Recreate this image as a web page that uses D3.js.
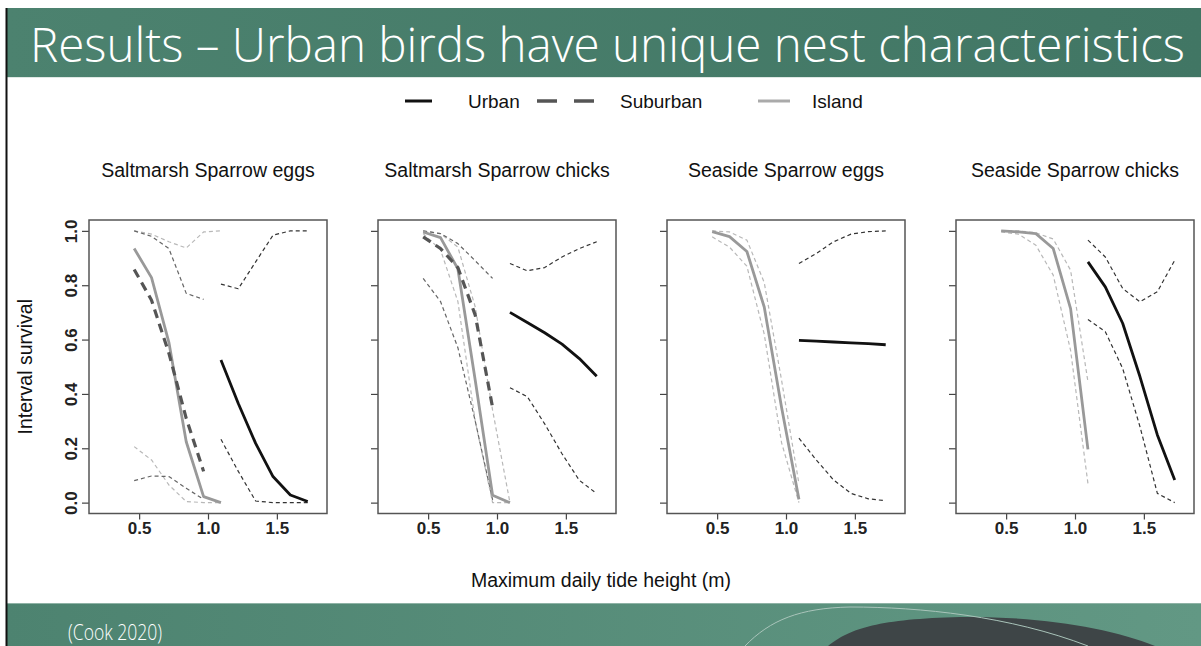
<!DOCTYPE html>
<html>
<head>
<meta charset="utf-8">
<script src="https://cdn.jsdelivr.net/npm/d3@7"></script>
<style>
  html, body { margin: 0; padding: 0; background: #fff; }
  svg { display: block; }
</style>
</head>
<body>
<div id="chart"></div>
<script>
// Tide heights (m) at which survival was predicted
const tide = [0.464, 0.59, 0.716, 0.842, 0.968, 1.094, 1.22, 1.346, 1.472, 1.598, 1.724];

const panelTitles = ["Saltmarsh Sparrow eggs", "Saltmarsh Sparrow chicks", "Seaside Sparrow eggs", "Seaside Sparrow chicks"];
const legendLabels = ["Urban", "Suburban", "Island"];
const yTicks = [0, 0.2, 0.4, 0.6, 0.8, 1.0];
const xTicks = [0.5, 1.0, 1.5];

// null = no prediction at that tide height
const n = null;
// Saltmarsh Sparrow eggs
const smEggsIsland     = [0.935, 0.828, 0.59, 0.224, 0.022, 0.0, n, n, n, n, n];
const smEggsIslandLo   = [0.206, 0.157, 0.065, 0.004, 0.0, 0.0, n, n, n, n, n];
const smEggsIslandHi   = [1.0, 0.988, 0.96, 0.937, 0.996, 1.0, n, n, n, n, n];
const smEggsSuburb     = [0.858, 0.745, 0.55, 0.31, 0.115, n, n, n, n, n, n];
const smEggsSuburbLo   = [0.081, 0.098, 0.096, 0.053, 0.012, n, n, n, n, n, n];
const smEggsSuburbHi   = [1.0, 0.98, 0.935, 0.77, 0.748, n, n, n, n, n, n];
const smEggsUrban      = [n, n, n, n, n, 0.525, 0.365, 0.218, 0.096, 0.028, 0.004];
const smEggsUrbanLo    = [n, n, n, n, n, 0.233, 0.115, 0.006, 0.0, 0.0, 0.0];
const smEggsUrbanHi    = [n, n, n, n, n, 0.804, 0.787, 0.886, 0.984, 1.0, 1.0];
// Saltmarsh Sparrow chicks
const smChicksIsland   = [0.996, 0.975, 0.86, 0.45, 0.027, 0.0, n, n, n, n, n];
const smChicksIslandLo = [0.99, 0.93, 0.74, 0.3, 0.0, 0.0, n, n, n, n, n];
const smChicksIslandHi = [1.0, 0.99, 0.94, 0.72, 0.34, 0.0, n, n, n, n, n];
const smChicksSuburb   = [0.978, 0.935, 0.865, 0.69, 0.35, n, n, n, n, n, n];
const smChicksSuburbLo = [0.825, 0.74, 0.57, 0.3, 0.01, n, n, n, n, n, n];
const smChicksSuburbHi = [1.0, 0.99, 0.953, 0.89, 0.825, n, n, n, n, n, n];
const smChicksUrban    = [n, n, n, n, n, 0.70, 0.663, 0.625, 0.583, 0.53, 0.465];
const smChicksUrbanLo  = [n, n, n, n, n, 0.423, 0.39, 0.29, 0.18, 0.082, 0.033];
const smChicksUrbanHi  = [n, n, n, n, n, 0.88, 0.853, 0.865, 0.904, 0.935, 0.96];
// Seaside Sparrow eggs (no suburban nests)
const ssEggsIsland     = [0.997, 0.979, 0.924, 0.72, 0.35, 0.012, n, n, n, n, n];
const ssEggsIslandLo   = [0.978, 0.94, 0.87, 0.62, 0.22, 0.0, n, n, n, n, n];
const ssEggsIslandHi   = [1.0, 0.996, 0.966, 0.81, 0.45, 0.07, n, n, n, n, n];
const ssEggsUrban      = [n, n, n, n, n, 0.597, 0.594, 0.591, 0.588, 0.585, 0.581];
const ssEggsUrbanLo    = [n, n, n, n, n, 0.237, 0.157, 0.083, 0.034, 0.014, 0.007];
const ssEggsUrbanHi    = [n, n, n, n, n, 0.88, 0.917, 0.96, 0.988, 0.997, 1.0];
// Seaside Sparrow chicks
const ssChicksIsland   = [1.0, 0.996, 0.99, 0.935, 0.714, 0.196, n, n, n, n, n];
const ssChicksIslandLo = [0.996, 0.988, 0.947, 0.837, 0.56, 0.07, n, n, n, n, n];
const ssChicksIslandHi = [1.0, 1.0, 0.993, 0.97, 0.855, 0.445, n, n, n, n, n];
const ssChicksUrban    = [n, n, n, n, n, 0.886, 0.794, 0.66, 0.463, 0.249, 0.083];
const ssChicksUrbanLo  = [n, n, n, n, n, 0.674, 0.629, 0.494, 0.279, 0.034, 0.0];
const ssChicksUrbanHi  = [n, n, n, n, n, 0.966, 0.904, 0.788, 0.739, 0.776, 0.892];

// line styles per series type
const styles = {
    islandCI: { stroke: "#b8b8b8", width: 1.2, dash: "4,3" },
    suburbCI: { stroke: "#666", width: 1.2, dash: "4,3" },
    urbanCI:  { stroke: "#333", width: 1.2, dash: "4,3" },
    island:   { stroke: "#999", width: 2.8, dash: null },
    suburb:   { stroke: "#555", width: 3.2, dash: "9,6" },
    urban:    { stroke: "#111", width: 2.8, dash: null }
};

const panels = [
    [["islandCI", smEggsIslandLo], ["islandCI", smEggsIslandHi], ["suburbCI", smEggsSuburbLo], ["suburbCI", smEggsSuburbHi],
     ["urbanCI", smEggsUrbanLo], ["urbanCI", smEggsUrbanHi], ["island", smEggsIsland], ["suburb", smEggsSuburb], ["urban", smEggsUrban]],
    [["islandCI", smChicksIslandLo], ["islandCI", smChicksIslandHi], ["suburbCI", smChicksSuburbLo], ["suburbCI", smChicksSuburbHi],
     ["urbanCI", smChicksUrbanLo], ["urbanCI", smChicksUrbanHi], ["island", smChicksIsland], ["suburb", smChicksSuburb], ["urban", smChicksUrban]],
    [["islandCI", ssEggsIslandLo], ["islandCI", ssEggsIslandHi], ["urbanCI", ssEggsUrbanLo], ["urbanCI", ssEggsUrbanHi],
     ["island", ssEggsIsland], ["urban", ssEggsUrban]],
    [["islandCI", ssChicksIslandLo], ["islandCI", ssChicksIslandHi], ["urbanCI", ssChicksUrbanLo], ["urbanCI", ssChicksUrbanHi],
     ["island", ssChicksIsland], ["urban", ssChicksUrban]]
];

const W = 1201, H = 646;
const svg = d3.select("#chart").append("svg").attr("width", W).attr("height", H);
const defs = svg.append("defs");

// slide decoration: header / footer bands
const gTop = defs.append("linearGradient").attr("id", "gTop");
gTop.append("stop").attr("offset", "0%").attr("stop-color", "#4c826f");
gTop.append("stop").attr("offset", "100%").attr("stop-color", "#417664");
const gBot = defs.append("linearGradient").attr("id", "gBot");
gBot.append("stop").attr("offset", "0%").attr("stop-color", "#4d8370");
gBot.append("stop").attr("offset", "100%").attr("stop-color", "#629884");

svg.append("rect").attr("x", 6).attr("y", 8).attr("width", W - 6).attr("height", 69).attr("fill", "url(#gTop)");
svg.append("line").attr("x1", 6).attr("x2", W).attr("y1", 77.5).attr("y2", 77.5).attr("stroke", "#dfe8e4").attr("stroke-width", 1);
svg.append("rect").attr("x", 6).attr("y", 603).attr("width", W - 6).attr("height", H - 603).attr("fill", "url(#gBot)");
svg.append("line").attr("x1", 6).attr("x2", W).attr("y1", 603.5).attr("y2", 603.5).attr("stroke", "#8fb3a6").attr("stroke-width", 1);
svg.append("path")
    .attr("d", "M828,646 C850,628 880,619 960,617 C1040,616 1110,628 1155,646 Z")
    .attr("fill", "#3e4547");
svg.append("path")
    .attr("d", "M745,646 C770,620 800,608 850,607 C920,607 1010,616 1088,646")
    .attr("fill", "none").attr("stroke", "#a9c4ba").attr("stroke-width", 1);
svg.append("line").attr("x1", 6.5).attr("x2", 6.5).attr("y1", 8).attr("y2", H).attr("stroke", "#111").attr("stroke-width", 2);

svg.append("text")
    .attr("x", 30).attr("y", 62)
    .attr("textLength", 1155).attr("lengthAdjust", "spacingAndGlyphs")
    .style("font-family", "'Open Sans', Lato, sans-serif")
    .style("font-weight", 300)
    .style("font-size", "48px")
    .attr("fill", "#fff")
    .text("Results \u2013 Urban birds have unique nest characteristics");

svg.append("text")
    .attr("x", 68).attr("y", 640)
    .attr("textLength", 94).attr("lengthAdjust", "spacingAndGlyphs")
    .style("font-family", "'Open Sans', Lato, sans-serif")
    .style("font-weight", 300)
    .style("font-size", "22px")
    .attr("fill", "#fff")
    .text("(Cook 2020)");

const font = "Arial, 'Liberation Sans', Helvetica, sans-serif";

// legend
const legend = svg.append("g").style("font-family", font).style("font-size", "19px");
const legendItems = [
    { x1: 405, x2: 432, tx: 468, st: { stroke: "#111", width: 3, dash: null } },
    { x1: 537, x2: 594, tx: 620, st: { stroke: "#555", width: 3.5, dash: "20,17" } },
    { x1: 758, x2: 790, tx: 812, st: { stroke: "#aaa", width: 3, dash: null } }
];
legendItems.forEach((d, i) => {
    legend.append("line")
        .attr("x1", d.x1).attr("x2", d.x2).attr("y1", 101).attr("y2", 101)
        .attr("stroke", d.st.stroke).attr("stroke-width", d.st.width)
        .attr("stroke-dasharray", d.st.dash);
    legend.append("text").attr("x", d.tx).attr("y", 108).attr("fill", "#111").text(legendLabels[i]);
});

// panels
const panelLeft = [89, 378, 667, 956];
const panelW = 238, plotTop = 220, plotBottom = 513.5;

const y = d3.scaleLinear().domain([-0.04, 1.04]).range([plotBottom, plotTop]);

panels.forEach((series, p) => {
    const x = d3.scaleLinear().domain([0.136, 1.864]).range([panelLeft[p], panelLeft[p] + panelW]);
    const g = svg.append("g");

    // x axis
    const xa = g.append("g").attr("transform", `translate(0,${plotBottom})`)
        .call(d3.axisBottom(x).tickValues(xTicks).tickSize(6).tickFormat(d3.format(".1f")));
    xa.select(".domain").remove();
    xa.selectAll("line").attr("stroke", "#444").attr("stroke-width", 1.2);
    xa.selectAll("text").attr("y", 20).attr("dy", null)
        .style("font-family", font).style("font-size", "17px").style("font-weight", "bold").attr("fill", "#222");

    // y axis
    const ya = g.append("g").attr("transform", `translate(${panelLeft[p]},0)`)
        .call(d3.axisLeft(y).tickValues(yTicks).tickSize(7).tickFormat(p === 0 ? d3.format(".1f") : ""));
    ya.select(".domain").remove();
    ya.selectAll("line").attr("stroke", "#444").attr("stroke-width", 1.2);
    ya.selectAll("text")
        .attr("x", null).attr("dy", null)
        .attr("text-anchor", "middle")
        .attr("transform", "translate(-12,0) rotate(-90)")
        .style("font-family", font).style("font-size", "17px").style("font-weight", "bold").attr("fill", "#222");

    // panel box
    g.append("rect")
        .attr("x", panelLeft[p]).attr("y", plotTop).attr("width", panelW).attr("height", plotBottom - plotTop)
        .attr("fill", "none").attr("stroke", "#555").attr("stroke-width", 1.5);

    const line = d3.line()
        .defined(d => d != null)
        .x((d, i) => x(tide[i]))
        .y(d => y(d));

    series.forEach(([type, values]) => {
        const st = styles[type];
        g.append("path")
            .attr("d", line(values))
            .attr("fill", "none")
            .attr("stroke", st.stroke)
            .attr("stroke-width", st.width)
            .attr("stroke-dasharray", st.dash)
            .attr("stroke-linejoin", "round");
    });

    g.append("text")
        .attr("x", panelLeft[p] + panelW / 2).attr("y", 177)
        .attr("text-anchor", "middle")
        .style("font-family", font).style("font-size", "19.5px").attr("fill", "#111")
        .text(panelTitles[p]);
});

// axis titles
svg.append("text")
    .attr("transform", `translate(32,${(plotTop + plotBottom) / 2}) rotate(-90)`)
    .attr("text-anchor", "middle")
    .style("font-family", font).style("font-size", "19.5px").attr("fill", "#111")
    .text("Interval survival");

svg.append("text")
    .attr("x", 601).attr("y", 587)
    .attr("text-anchor", "middle")
    .style("font-family", font).style("font-size", "19.5px").attr("fill", "#111")
    .text("Maximum daily tide height (m)");
</script>
</body>
</html>
